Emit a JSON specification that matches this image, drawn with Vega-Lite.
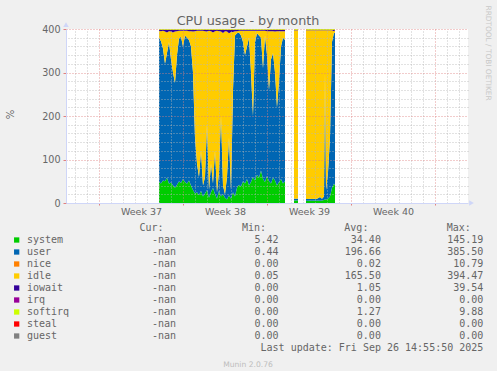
{
  "$schema": "https://vega.github.io/schema/vega-lite/v6.json",
  "background": "#f0f0f0",
  "padding": {"left": 5, "top": 5, "right": 10, "bottom": 10},
  "bounds": "flush",
  "spacing": 25,
  "config": {
    "view": {"stroke": null},
    "text": {"font": "DejaVu Sans Mono"}
  },
  "datasets": {
    "series": [
      {"series": "system", "rank": 1, "cur": "-nan", "min": "5.42", "avg": "34.40", "max": "145.19"},
      {"series": "user", "rank": 2, "cur": "-nan", "min": "0.44", "avg": "196.66", "max": "385.50"},
      {"series": "nice", "rank": 3, "cur": "-nan", "min": "0.00", "avg": "0.02", "max": "10.79"},
      {"series": "idle", "rank": 4, "cur": "-nan", "min": "0.05", "avg": "165.50", "max": "394.47"},
      {"series": "iowait", "rank": 5, "cur": "-nan", "min": "0.00", "avg": "1.05", "max": "39.54"},
      {"series": "irq", "rank": 6, "cur": "-nan", "min": "0.00", "avg": "0.00", "max": "0.00"},
      {"series": "softirq", "rank": 7, "cur": "-nan", "min": "0.00", "avg": "1.27", "max": "9.88"},
      {"series": "steal", "rank": 8, "cur": "-nan", "min": "0.00", "avg": "0.00", "max": "0.00"},
      {"series": "guest", "rank": 9, "cur": "-nan", "min": "0.00", "avg": "0.00", "max": "0.00"}
    ],
    "cpu": [
      {"d":5,"c":1,"system":48,"user":332,"idle":16,"iowait":2,"softirq":2},
      {"d":5.167,"c":1,"system":45,"user":327,"idle":23,"iowait":3,"softirq":2},
      {"d":5.333,"c":1,"system":52,"user":303,"idle":41,"iowait":2,"softirq":2},
      {"d":5.5,"c":1,"system":50,"user":270,"idle":74,"iowait":4,"softirq":2},
      {"d":5.667,"c":1,"system":58,"user":287,"idle":47,"iowait":6,"softirq":2},
      {"d":5.833,"c":1,"system":44,"user":326,"idle":25,"iowait":3,"softirq":2},
      {"d":6,"c":1,"system":47,"user":283,"idle":64,"iowait":4,"softirq":2},
      {"d":6.167,"c":1,"system":40,"user":260,"idle":92,"iowait":6,"softirq":2},
      {"d":6.333,"c":1,"system":35,"user":241,"idle":118,"iowait":4,"softirq":2},
      {"d":6.5,"c":1,"system":42,"user":298,"idle":55,"iowait":3,"softirq":2},
      {"d":6.667,"c":1,"system":50,"user":328,"idle":18,"iowait":2,"softirq":2},
      {"d":6.833,"c":1,"system":46,"user":336,"idle":14,"iowait":2,"softirq":2},
      {"d":7,"c":1,"system":55,"user":305,"idle":36,"iowait":2,"softirq":2},
      {"d":7.167,"c":1,"system":48,"user":337,"idle":11,"iowait":2,"softirq":2},
      {"d":7.333,"c":1,"system":44,"user":336,"idle":16,"iowait":2,"softirq":2},
      {"d":7.5,"c":1,"system":52,"user":323,"idle":20,"iowait":3,"softirq":2},
      {"d":7.667,"c":1,"system":40,"user":320,"idle":35,"iowait":3,"softirq":2},
      {"d":7.833,"c":1,"system":30,"user":270,"idle":94,"iowait":4,"softirq":2},
      {"d":8,"c":1,"system":22,"user":128,"idle":245,"iowait":3,"softirq":2},
      {"d":8.167,"c":1,"system":25,"user":65,"idle":306,"iowait":2,"softirq":2},
      {"d":8.333,"c":1,"system":18,"user":42,"idle":336,"iowait":2,"softirq":2},
      {"d":8.5,"c":1,"system":28,"user":92,"idle":276,"iowait":2,"softirq":2},
      {"d":8.667,"c":1,"system":15,"user":25,"idle":356,"iowait":2,"softirq":2},
      {"d":8.833,"c":1,"system":22,"user":38,"idle":335,"iowait":3,"softirq":2},
      {"d":9,"c":1,"system":30,"user":150,"idle":214,"iowait":4,"softirq":2},
      {"d":9.167,"c":1,"system":12,"user":18,"idle":366,"iowait":2,"softirq":2},
      {"d":9.333,"c":1,"system":25,"user":65,"idle":305,"iowait":3,"softirq":2},
      {"d":9.5,"c":1,"system":35,"user":10,"idle":347,"iowait":6,"softirq":2},
      {"d":9.667,"c":1,"system":20,"user":100,"idle":275,"iowait":3,"softirq":2},
      {"d":9.833,"c":1,"system":10,"user":15,"idle":371,"iowait":2,"softirq":2},
      {"d":10,"c":1,"system":28,"user":42,"idle":325,"iowait":3,"softirq":2},
      {"d":10.167,"c":1,"system":15,"user":185,"idle":194,"iowait":4,"softirq":2},
      {"d":10.333,"c":1,"system":20,"user":20,"idle":351,"iowait":7,"softirq":2},
      {"d":10.5,"c":1,"system":12,"user":8,"idle":375,"iowait":3,"softirq":2},
      {"d":10.667,"c":1,"system":8,"user":52,"idle":334,"iowait":4,"softirq":2},
      {"d":10.833,"c":1,"system":18,"user":132,"idle":240,"iowait":8,"softirq":2},
      {"d":11,"c":1,"system":10,"user":20,"idle":363,"iowait":5,"softirq":2},
      {"d":11.167,"c":1,"system":25,"user":235,"idle":133,"iowait":5,"softirq":2},
      {"d":11.333,"c":1,"system":15,"user":370,"idle":10,"iowait":3,"softirq":2},
      {"d":11.5,"c":1,"system":35,"user":355,"idle":5,"iowait":3,"softirq":2},
      {"d":11.667,"c":1,"system":42,"user":350,"idle":4,"iowait":2,"softirq":2},
      {"d":11.833,"c":1,"system":38,"user":347,"idle":11,"iowait":2,"softirq":2},
      {"d":12,"c":1,"system":50,"user":320,"idle":26,"iowait":2,"softirq":2},
      {"d":12.167,"c":1,"system":45,"user":295,"idle":56,"iowait":2,"softirq":2},
      {"d":12.333,"c":1,"system":55,"user":305,"idle":36,"iowait":2,"softirq":2},
      {"d":12.5,"c":1,"system":40,"user":340,"idle":16,"iowait":2,"softirq":2},
      {"d":12.667,"c":1,"system":48,"user":252,"idle":96,"iowait":2,"softirq":2},
      {"d":12.833,"c":1,"system":60,"user":140,"idle":196,"iowait":2,"softirq":2},
      {"d":13,"c":1,"system":52,"user":318,"idle":26,"iowait":2,"softirq":2},
      {"d":13.167,"c":1,"system":65,"user":325,"idle":6,"iowait":2,"softirq":2},
      {"d":13.333,"c":1,"system":58,"user":327,"idle":11,"iowait":2,"softirq":2},
      {"d":13.5,"c":1,"system":75,"user":305,"idle":16,"iowait":2,"softirq":2},
      {"d":13.667,"c":1,"system":55,"user":255,"idle":86,"iowait":2,"softirq":2},
      {"d":13.833,"c":1,"system":48,"user":337,"idle":11,"iowait":2,"softirq":2},
      {"d":14,"c":1,"system":62,"user":278,"idle":55,"iowait":3,"softirq":2},
      {"d":14.167,"c":1,"system":50,"user":210,"idle":135,"iowait":3,"softirq":2},
      {"d":14.333,"c":1,"system":45,"user":285,"idle":65,"iowait":3,"softirq":2},
      {"d":14.5,"c":1,"system":58,"user":287,"idle":50,"iowait":3,"softirq":2},
      {"d":14.667,"c":1,"system":52,"user":248,"idle":94,"iowait":4,"softirq":2},
      {"d":14.833,"c":1,"system":40,"user":180,"idle":175,"iowait":3,"softirq":2},
      {"d":15,"c":1,"system":48,"user":232,"idle":115,"iowait":3,"softirq":2},
      {"d":15.167,"c":1,"system":55,"user":305,"idle":35,"iowait":3,"softirq":2},
      {"d":15.333,"c":1,"system":45,"user":335,"idle":15,"iowait":3,"softirq":2},
      {"d":15.5,"c":1,"system":50,"user":325,"idle":20,"iowait":3,"softirq":2},
      {"d":16.25,"c":2,"system":6,"user":4,"idle":387,"iowait":1,"softirq":2},
      {"d":16.417,"c":2,"system":6,"user":4,"idle":387,"iowait":1,"softirq":2},
      {"d":16.583,"c":2,"system":6,"user":4,"idle":387,"iowait":1,"softirq":2},
      {"d":17.25,"c":3,"system":5,"user":4,"idle":388,"iowait":1,"softirq":2},
      {"d":17.417,"c":3,"system":5,"user":4,"idle":388,"iowait":1,"softirq":2},
      {"d":17.583,"c":3,"system":6,"user":4,"idle":387,"iowait":1,"softirq":2},
      {"d":17.75,"c":3,"system":5,"user":4,"idle":388,"iowait":1,"softirq":2},
      {"d":17.917,"c":3,"system":6,"user":4,"idle":387,"iowait":1,"softirq":2},
      {"d":18.083,"c":3,"system":5,"user":4,"idle":388,"iowait":1,"softirq":2},
      {"d":18.25,"c":3,"system":6,"user":5,"idle":386,"iowait":1,"softirq":2},
      {"d":18.417,"c":3,"system":5,"user":9,"idle":383,"iowait":1,"softirq":2},
      {"d":18.583,"c":3,"system":6,"user":4,"idle":387,"iowait":1,"softirq":2},
      {"d":18.75,"c":3,"system":7,"user":8,"idle":382,"iowait":1,"softirq":2},
      {"d":18.833,"c":3,"system":8,"user":292,"idle":97,"iowait":1,"softirq":2},
      {"d":18.917,"c":3,"system":8,"user":22,"idle":367,"iowait":1,"softirq":2},
      {"d":19.083,"c":3,"system":10,"user":60,"idle":327,"iowait":1,"softirq":2},
      {"d":19.25,"c":3,"system":15,"user":135,"idle":247,"iowait":1,"softirq":2},
      {"d":19.417,"c":3,"system":35,"user":335,"idle":27,"iowait":1,"softirq":2},
      {"d":19.583,"c":3,"system":45,"user":347,"idle":3,"iowait":3,"softirq":2},
      {"d":19.667,"c":3,"system":40,"user":350,"idle":7,"iowait":1,"softirq":2}
    ]
  },
  "vconcat": [
    {
      "width": 402,
      "height": 174,
      "view": {"fill": "#ffffff", "stroke": null},
      "resolve": {"axis": {"x": "independent", "y": "independent"}},
      "layer": [
        {
          "data": {"name": "cpu"},
          "transform": [
            {"fold": ["system", "user", "idle", "iowait", "softirq"], "as": ["series", "v"]},
            {"lookup": "series", "from": {"data": {"name": "series"}, "key": "series", "fields": ["rank"]}}
          ],
          "mark": {"type": "area", "interpolate": "linear"},
          "encoding": {
            "x": {"field": "d", "type": "quantitative", "scale": {"domain": [-2.75, 30.75], "nice": false, "zero": false},
              "axis": {"values": [0, 7, 14, 21, 28], "labelExpr": "datum.value < 28 ? 'Week ' + (37 + datum.value / 7) : ''", "labelOffset": 42, "labelFont": "DejaVu Sans", "labelFontSize": 9.5, "labelColor": "#666666", "labelPadding": 1, "labelFlush": false, "labelOverlap": false, "grid": true, "gridColor": "#e08080", "gridDash": [1, 2], "gridOpacity": 0.8, "ticks": true, "tickColor": "#e08080", "tickSize": 2, "domain": true, "domainColor": "#cfd6f8", "title": null, "zindex": 1}},
            "y": {"field": "v", "type": "quantitative", "stack": "zero", "impute": null, "scale": {"domain": [0, 400], "nice": false},
              "axis": {"values": [0, 100, 200, 300, 400], "orient": "left", "grid": true, "gridColor": "#e08080", "gridDash": [1, 2], "gridOpacity": 0.8, "ticks": true, "tickColor": "#e08080", "tickSize": 3, "labelFont": "DejaVu Sans", "labelFontSize": 9.6, "labelColor": "#666666", "labelPadding": 3, "domain": true, "domainColor": "#cfd6f8", "title": "%", "titleFont": "DejaVu Sans", "titleFontSize": 10, "titleFontWeight": "normal", "titleColor": "#666666", "titleX": -56, "titleY": 85, "titleAngle": -90, "titleAlign": "center", "titleBaseline": "middle", "zindex": 1}},
            "color": {"field": "series", "type": "nominal", "legend": null,
              "scale": {"domain": ["system", "user", "nice", "idle", "iowait", "irq", "softirq", "steal", "guest"], "range": ["#00cc00", "#0066b3", "#ff8000", "#ffcc00", "#330099", "#990099", "#ccff00", "#ff0000", "#808080"]}},
            "order": {"field": "rank", "type": "quantitative", "sort": "ascending"},
            "detail": {"field": "c", "type": "nominal"}
          }
        },
        {
          "data": {"name": "cpu"},
          "mark": {"type": "point", "opacity": 0},
          "encoding": {
            "x": {"field": "d", "type": "quantitative",
              "axis": {"values": [-2, -1, 1, 2, 3, 4, 5, 6, 8, 9, 10, 11, 12, 13, 15, 16, 17, 18, 19, 20, 22, 23, 24, 25, 26, 27, 29, 30], "orient": "top", "grid": true, "gridColor": "#b8b8b8", "gridDash": [1, 2], "gridOpacity": 0.8, "ticks": false, "labels": false, "domain": false, "title": "CPU usage - by month", "titleFont": "DejaVu Sans", "titleFontSize": 12.8, "titleFontWeight": "normal", "titleColor": "#666666", "titleX": 181.5, "titleY": -5, "titleAlign": "center", "titleBaseline": "alphabetic", "titleAngle": 0, "zindex": 1}},
            "y": {"field": "system", "type": "quantitative",
              "axis": {"values": [20, 40, 60, 80, 120, 140, 160, 180, 220, 240, 260, 280, 320, 340, 360, 380], "orient": "right", "grid": true, "gridColor": "#b8b8b8", "gridDash": [1, 2], "gridOpacity": 0.8, "ticks": false, "labels": false, "domain": false, "title": "RRDTOOL / TOBI OETIKER", "titleFont": "DejaVu Sans", "titleFontSize": 7.4, "titleFontWeight": "normal", "titleColor": "#c8c8c8", "titleAngle": 90, "titleX": 19, "titleY": -24, "titleAlign": "left", "titleBaseline": "middle", "zindex": 1}}
          }
        },
        {
          "data": {"values": [{}]},
          "mark": {"type": "point", "shape": "triangle-up", "filled": true, "color": "#cfd6f8", "size": 30, "opacity": 1},
          "encoding": {
            "x": {"datum": -2.75, "type": "quantitative", "axis": null},
            "y": {"datum": 410, "type": "quantitative", "axis": null}
          }
        },
        {
          "data": {"values": [{}]},
          "mark": {"type": "point", "shape": "triangle-right", "filled": true, "color": "#cfd6f8", "size": 30, "opacity": 1},
          "encoding": {
            "x": {"datum": 31.04, "type": "quantitative", "axis": null},
            "y": {"datum": 0, "type": "quantitative", "axis": null}
          }
        }
      ]
    },
    {
      "width": 425,
      "height": 120,
      "view": {"stroke": null},
      "title": {"text": "Munin 2.0.76", "orient": "bottom", "anchor": "middle", "frame": "group", "dx": -30.5, "offset": 7.5, "baseline": "top", "font": "DejaVu Sans", "fontSize": 7.6, "fontWeight": "normal", "color": "#bdbdbd"},
      "layer": [
        {
          "data": {"name": "series"},
          "mark": {"type": "square", "size": 28, "filled": true, "opacity": 1, "xOffset": -57},
          "encoding": {
            "x": {"datum": "name", "type": "nominal", "scale": {"type": "point", "domain": ["name", "cur", "min", "avg", "max"], "padding": 0.075}, "axis": null},
            "y": {"field": "series", "type": "nominal", "scale": {"type": "point", "domain": ["header", "system", "user", "nice", "idle", "iowait", "irq", "softirq", "steal", "guest", "update"], "padding": 0}, "axis": null},
            "color": {"field": "series", "type": "nominal", "legend": null,
              "scale": {"domain": ["system", "user", "nice", "idle", "iowait", "irq", "softirq", "steal", "guest"], "range": ["#00cc00", "#0066b3", "#ff8000", "#ffcc00", "#330099", "#990099", "#ccff00", "#ff0000", "#808080"]}}
          }
        },
        {
          "data": {"name": "series"},
          "mark": {"type": "text", "align": "left", "baseline": "middle", "dx": -46.7, "font": "DejaVu Sans Mono", "fontSize": 10, "color": "#666666"},
          "encoding": {
            "x": {"datum": "name", "type": "nominal", "axis": null},
            "y": {"field": "series", "type": "nominal", "axis": null},
            "text": {"field": "series"}
          }
        },
        {
          "data": {"name": "series"},
          "transform": [{"fold": ["cur", "min", "avg", "max"], "as": ["col", "val"]}],
          "mark": {"type": "text", "align": "right", "baseline": "middle", "font": "DejaVu Sans Mono", "fontSize": 10, "color": "#666666"},
          "encoding": {
            "x": {"field": "col", "type": "nominal", "axis": null},
            "y": {"field": "series", "type": "nominal", "axis": null},
            "text": {"field": "val"}
          }
        },
        {
          "data": {"values": [{"col": "cur", "h": "Cur:"}, {"col": "min", "h": "Min:"}, {"col": "avg", "h": "Avg:"}, {"col": "max", "h": "Max:"}]},
          "mark": {"type": "text", "align": "right", "baseline": "middle", "dx": -12.5, "font": "DejaVu Sans Mono", "fontSize": 10, "color": "#666666"},
          "encoding": {
            "x": {"field": "col", "type": "nominal", "axis": null},
            "y": {"datum": "header", "type": "nominal", "axis": null},
            "text": {"field": "h"}
          }
        },
        {
          "data": {"values": [{"t": "Last update: Fri Sep 26 14:55:50 2025"}]},
          "mark": {"type": "text", "align": "right", "baseline": "middle", "font": "DejaVu Sans Mono", "fontSize": 10, "color": "#666666"},
          "encoding": {
            "x": {"datum": "max", "type": "nominal", "axis": null},
            "y": {"datum": "update", "type": "nominal", "axis": null},
            "text": {"field": "t"}
          }
        }
      ]
    }
  ]
}
